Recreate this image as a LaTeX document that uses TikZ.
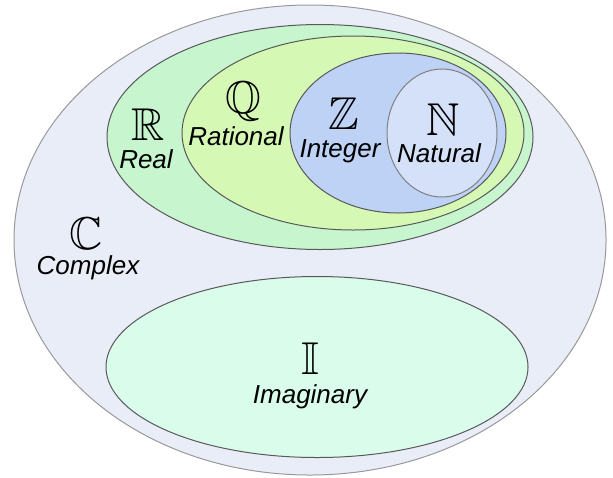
\documentclass[tikz,border=0pt]{standalone}
\usepackage{amssymb}
\usepackage{fontspec}
\setmainfont{Liberation Sans}
\usetikzlibrary{shapes.geometric}

\definecolor{cplxfill}{RGB}{233,237,248}
\definecolor{realfill}{RGB}{198,245,206}
\definecolor{ratfill}{RGB}{214,248,181}
\definecolor{intfill}{RGB}{190,210,245}
\definecolor{natfill}{RGB}{213,225,248}
\definecolor{imagfill}{RGB}{218,252,235}

\tikzset{
  numset/.style={ellipse,draw=black!65,line width=0.5pt,inner sep=0pt},
  setsym/.style={anchor=base,inner sep=0pt,font=\fontsize{23}{26}\selectfont},
  setname/.style={anchor=base,inner sep=0pt,font=\fontsize{13}{15}\selectfont\itshape},
}

\begin{document}
\begin{tikzpicture}[x=0.5pt,y=-0.5pt]
  \useasboundingbox (0,0) rectangle (613,477);

  % Complex
  \node[numset,draw=black!40,fill=cplxfill,minimum width=296pt,minimum height=235pt] (cset) at (310,240) {};

  % Real
  \node[numset,fill=realfill,minimum width=213pt,minimum height=112.5pt] (rset) at (320,137) {};

  % Rational
  \node[numset,fill=ratfill,minimum width=171pt,minimum height=97pt] (qset) at (353,133) {};

  % Integer
  \node[numset,fill=intfill,minimum width=108pt,minimum height=80pt] (zset) at (398,133) {};

  % Natural
  \node[numset,draw=black!50,fill=natfill,minimum width=55pt,minimum height=64pt] (nset) at (442,133) {};

  % Imaginary
  \node[numset,fill=imagfill,minimum width=211pt,minimum height=90.5pt] (iset) at (317,367) {};

  \node[setsym] (csym) at (86,249) {$\mathbb{C}$};
  \node[setname] (cname) at (88,274) {Complex};

  \node[setsym] (rsym) at (148,140) {$\mathbb{R}$};
  \node[setname] (rname) at (146,168) {Real};

  \node[setsym] (qsym) at (243,113) {$\mathbb{Q}$};
  \node[setname] (qname) at (236,145) {Rational};

  \node[setsym] (zsym) at (344,129) {$\mathbb{Z}$};
  \node[setname] (zname) at (340,157) {Integer};

  \node[setsym] (nsym) at (443,135) {$\mathbb{N}$};
  \node[setname] (nname) at (439,162) {Natural};

  \node[setsym] (isym) at (310,374) {$\mathbb{I}$};
  \node[setname] (iname) at (310,403) {Imaginary};

\end{tikzpicture}
\end{document}
